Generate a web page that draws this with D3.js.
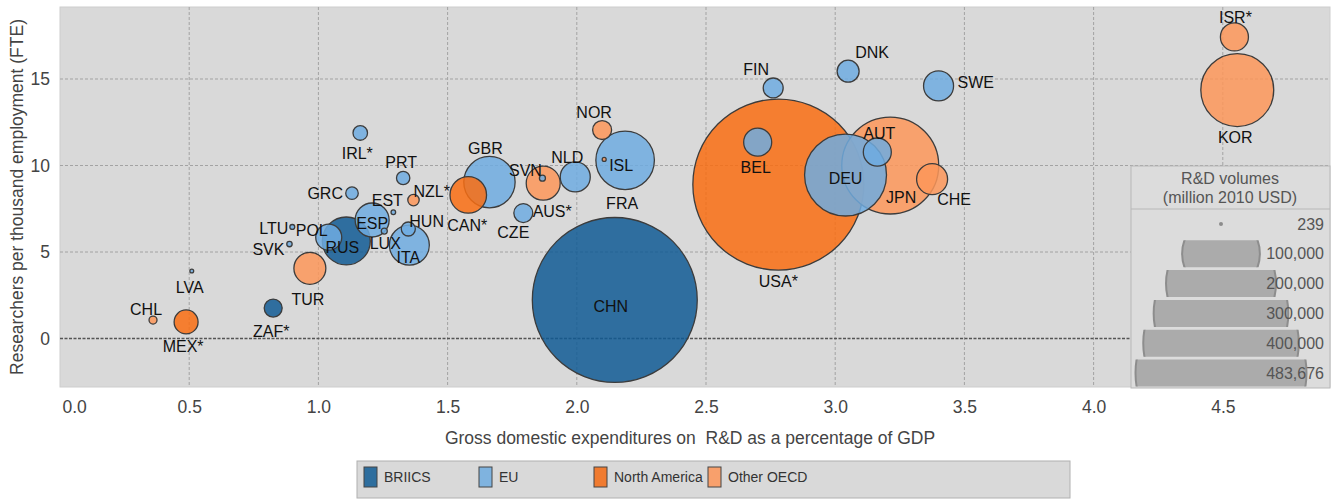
<!DOCTYPE html>
<html>
<head>
<meta charset="utf-8">
<script src="https://cdn.jsdelivr.net/npm/d3@7/dist/d3.min.js"></script>
<style>
  body { margin: 0; background: #fff; font-family: "Liberation Sans", Arial, sans-serif; }
  svg text { font-family: "Liberation Sans", Arial, sans-serif; }
</style>
</head>
<body>
<div id="graf"></div>
<script>
// Datos: pais, grupo, gasto I+D (% PIB), investigadores por mil empleos, volumen I+D (millones USD 2010)
paises = ['CHL','MEX*','LVA','ZAF*','SVK','LTU','TUR','POL','RUS','GRC','IRL*','ESP','LUX','EST','PRT','HUN','ITA','NZL*',
          'CAN*','GBR','CZE','SVN','AUS*','NLD','NOR','ISL','CHN','FRA','BEL','FIN','USA*','DEU','DNK','AUT','JPN','CHE','SWE','ISR*','KOR']
grupos = ['Other OECD','North America','EU','BRIICS','EU','EU','Other OECD','EU','BRIICS','EU','EU','EU','EU','EU','EU','EU','EU','Other OECD',
          'North America','EU','EU','EU','Other OECD','EU','Other OECD','Other OECD','BRIICS','EU','EU','EU','North America','EU','EU','EU','Other OECD','Other OECD','EU','Other OECD','Other OECD']
gerd = [0.36,0.488,0.51,0.825,0.888,0.899,0.967,1.04,1.108,1.13,1.162,1.208,1.255,1.29,1.328,1.348,1.352,1.368,
        1.58,1.662,1.793,1.867,1.87,1.994,2.098,2.106,2.147,2.187,2.70,2.76,2.78,3.04,3.05,3.163,3.213,3.375,3.40,4.545,4.556]
investigadores = [1.07,0.96,3.9,1.76,5.46,6.45,4.06,5.86,5.64,8.4,11.88,6.85,6.21,7.3,9.28,6.33,5.4,8.0,
                  8.3,9.04,7.25,9.27,8.98,9.34,12.05,10.35,2.23,10.3,11.35,14.48,8.9,9.45,15.45,10.78,10.0,9.21,14.6,17.43,14.36]
volumen = [1060,9500,239,5350,480,400,16900,11200,38000,2600,3500,19100,600,350,2950,3250,26400,2150,
           22100,43600,5950,600,19100,14900,5950,260,450000,56700,13000,6600,483676,111000,8000,13000,155500,15900,14900,13000,88000]

categorias = ['BRIICS','EU','North America','Other OECD']
coloresBase = ['#105a94','#6face0','#f96d12','#fd9659']
coloresLeyenda = ['#2e6e9e','#7fb3df','#f07b30','#f8a06c']

valoresLeyenda = [239,100000,200000,300000,400000,483676]
etiquetasLeyenda = ['239','100,000','200,000','300,000','400,000','483,676']

ticksX = [0.0,0.5,1.0,1.5,2.0,2.5,3.0,3.5,4.0,4.5]
ticksY = [0,5,10,15]

// desplazamiento de etiquetas (px) respecto al centro de cada burbuja
posEtiqueta = {
  'CHL':[-7,-11,'middle'],'MEX*':[-3,25,'middle'],'LVA':[-2,16,'middle'],'ZAF*':[-2,23,'middle'],
  'SVK':[-5,5,'end'],'LTU':[-4,2,'end'],'TUR':[-2,31,'middle'],'POL':[-17,-7,'middle'],'RUS':[-4,7,'middle'],
  'GRC':[-9,0,'end'],'IRL*':[-3,21,'middle'],'ESP':[0,3,'middle'],'LUX':[1,12,'middle'],'EST':[-6,-12,'middle'],
  'PRT':[-2,-15,'middle'],'HUN':[1,-8,'start'],'ITA':[-1,12,'middle'],'NZL*':[0,-9,'start'],'CAN*':[-1,31,'middle'],
  'GBR':[-4,-34,'middle'],'CZE':[-10,19,'middle'],'SVN':[-17,-8,'middle'],'AUS*':[9,28,'middle'],'NLD':[-8,-19,'middle'],
  'NOR':[-8,-18,'middle'],'ISL':[17,6,'middle'],'CHN':[-4,7,'middle'],'FRA':[-3,43,'middle'],'BEL':[-2,25,'middle'],
  'FIN':[-17,-18,'middle'],'USA*':[0,97,'middle'],'DEU':[0,3,'middle'],'DNK':[24,-19,'middle'],'AUT':[2,-19,'middle'],
  'JPN':[11,32,'middle'],'CHE':[22,20,'middle'],'SWE':[19,-3,'start'],'ISR*':[1,-19,'middle'],'KOR':[-2,47,'middle']
}

ancho_total = 1336
alto_total = 499
panel = { izq: 60, der: 1330, sup: 7, inf: 387 }

svg = d3.select('#graf').append('svg')
        .attr('width', ancho_total)
        .attr('height', alto_total)

x = d3.scaleLinear()
      .domain([0, (panel.der - panel.izq) / 258.4])
      .range([panel.izq, panel.der])
y = d3.scaleLinear()
      .domain([-2.8, 19.16])
      .range([panel.inf, panel.sup])
r = d3.scaleSqrt()
      .domain([0, 483676])
      .range([0, 85.5])
color = d3.scaleOrdinal().domain(categorias).range(coloresBase)

// fondo del panel
svg.append('rect')
   .attr('x', panel.izq).attr('y', panel.sup)
   .attr('width', panel.der - panel.izq).attr('height', panel.inf - panel.sup)
   .attr('fill', '#d9d9d9')
   .attr('stroke', '#cdcdcd')

// rejilla
svg.append('g').selectAll('line')
   .data(ticksX.filter(d => d > 0))
   .enter().append('line')
   .attr('x1', d => x(d)).attr('x2', d => x(d))
   .attr('y1', panel.sup).attr('y2', panel.inf)
   .attr('stroke', '#a3a3a3').attr('stroke-width', 1).attr('stroke-dasharray', '3,2')
svg.append('g').selectAll('line')
   .data(ticksY)
   .enter().append('line')
   .attr('x1', panel.izq).attr('x2', panel.der)
   .attr('y1', d => y(d)).attr('y2', d => y(d))
   .attr('stroke', d => d == 0 ? '#555' : '#a3a3a3')
   .attr('stroke-width', d => d == 0 ? 1.6 : 1)
   .attr('stroke-dasharray', d => d == 0 ? '3,1.5' : '3,2')

// burbujas, las grandes primero
datos = paises.map((p, i) => ({ pais: p, grupo: grupos[i], gx: gerd[i], gy: investigadores[i], vol: volumen[i] }))
orden = datos.slice().sort((a, b) => b.vol - a.vol)

svg.append('g').selectAll('circle')
   .data(orden)
   .enter().append('circle')
   .attr('cx', d => x(d.gx))
   .attr('cy', d => y(d.gy))
   .attr('r', d => Math.max(r(d.vol), 1.5))
   .attr('fill', d => color(d.grupo))
   .attr('fill-opacity', 0.85)
   .attr('stroke', '#3c3c3c')
   .attr('stroke-width', 1.3)

svg.append('g').selectAll('text')
   .data(datos)
   .enter().append('text')
   .attr('x', d => x(d.gx) + posEtiqueta[d.pais][0])
   .attr('y', d => y(d.gy) + posEtiqueta[d.pais][1])
   .attr('text-anchor', d => posEtiqueta[d.pais][2])
   .attr('dominant-baseline', 'central')
   .attr('font-size', '16px')
   .attr('fill', '#111')
   .text(d => d.pais)

// leyenda de volumenes dentro del panel
ley = { izq: 1131, der: 1330, sup: 166, inf: 388, div: 209 }
gl = svg.append('g')
gl.append('rect')
  .attr('x', ley.izq).attr('y', ley.sup)
  .attr('width', ley.der - ley.izq).attr('height', ley.inf - ley.sup)
  .attr('fill', '#dcdcdc').attr('stroke', '#b8b8b8')
gl.append('line')
  .attr('x1', ley.izq).attr('x2', ley.der).attr('y1', ley.div).attr('y2', ley.div)
  .attr('stroke', '#b8b8b8')
gl.append('text').attr('x', 1230).attr('y', 184).attr('text-anchor', 'middle')
  .attr('font-size', '16px').attr('fill', '#555').text('R&D volumes')
gl.append('text').attr('x', 1230).attr('y', 203).attr('text-anchor', 'middle')
  .attr('font-size', '16px').attr('fill', '#555').text('(million 2010 USD)')

cxLey = 1221
filaY = i => 224 + i * 29.8
defs = svg.append('defs')
valoresLeyenda.forEach((v, i) => {
  cy = filaY(i)
  if (i > 0) {
    defs.append('clipPath').attr('id', 'fila' + i)
        .append('rect').attr('x', ley.izq).attr('y', cy - 13.5)
        .attr('width', ley.der - ley.izq).attr('height', 27)
  }
  gl.append('circle')
    .attr('cx', cxLey).attr('cy', cy)
    .attr('r', Math.max(r(v), 2))
    .attr('fill', i == 0 ? '#8c8c8c' : '#ababab')
    .attr('stroke', i == 0 ? 'none' : '#8d8d8d')
    .attr('stroke-width', 2)
    .attr('clip-path', i > 0 ? 'url(#fila' + i + ')' : null)
  gl.append('text')
    .attr('x', 1324).attr('y', cy)
    .attr('text-anchor', 'end').attr('dominant-baseline', 'central')
    .attr('font-size', '16px').attr('fill', '#555')
    .text(etiquetasLeyenda[i])
})

// ejes
xAxisCall = d3.axisBottom(x).tickValues(ticksX).tickSize(0).tickPadding(14).tickFormat(d3.format('.1f'))
xAxisGroup = svg.append('g').attr('transform', `translate(0, ${panel.inf})`).call(xAxisCall)
xAxisGroup.select('.domain').remove()
xAxisGroup.selectAll('text').attr('font-size', '17.5px').attr('fill', '#444')
xAxisGroup.selectAll('text').filter(d => d == 0).attr('text-anchor', 'start').attr('dx', '2px')

yAxisCall = d3.axisLeft(y).tickValues(ticksY).tickSize(0).tickPadding(10).tickFormat(d3.format('d'))
yAxisGroup = svg.append('g').attr('transform', `translate(${panel.izq}, 0)`).call(yAxisCall)
yAxisGroup.select('.domain').remove()
yAxisGroup.selectAll('text').attr('font-size', '17.5px').attr('fill', '#444')

svg.append('text')
   .attr('x', 690).attr('y', 444)
   .attr('text-anchor', 'middle').attr('font-size', '17.5px').attr('fill', '#444')
   .attr('xml:space', 'preserve')
   .text('Gross domestic expenditures on  R&D as a percentage of GDP')
svg.append('text')
   .attr('transform', `translate(23, 197) rotate(-90)`)
   .attr('text-anchor', 'middle').attr('font-size', '17.5px').attr('fill', '#444')
   .text('Researchers per thousand employment (FTE)')

// leyenda de grupos
gg = svg.append('g')
gg.append('rect').attr('x', 357).attr('y', 461).attr('width', 713).attr('height', 37)
  .attr('fill', '#d9d9d9').attr('stroke', '#b0b0b0')
posLeyX = [364, 479, 594, 708]
categorias.forEach((c, i) => {
  gg.append('rect').attr('x', posLeyX[i]).attr('y', 467).attr('width', 13).attr('height', 20)
    .attr('fill', coloresLeyenda[i]).attr('stroke', '#444').attr('stroke-width', 1)
  gg.append('text').attr('x', posLeyX[i] + 20).attr('y', 477)
    .attr('dominant-baseline', 'central').attr('font-size', '14px').attr('fill', '#333')
    .text(c)
})
</script>
</body>
</html>
